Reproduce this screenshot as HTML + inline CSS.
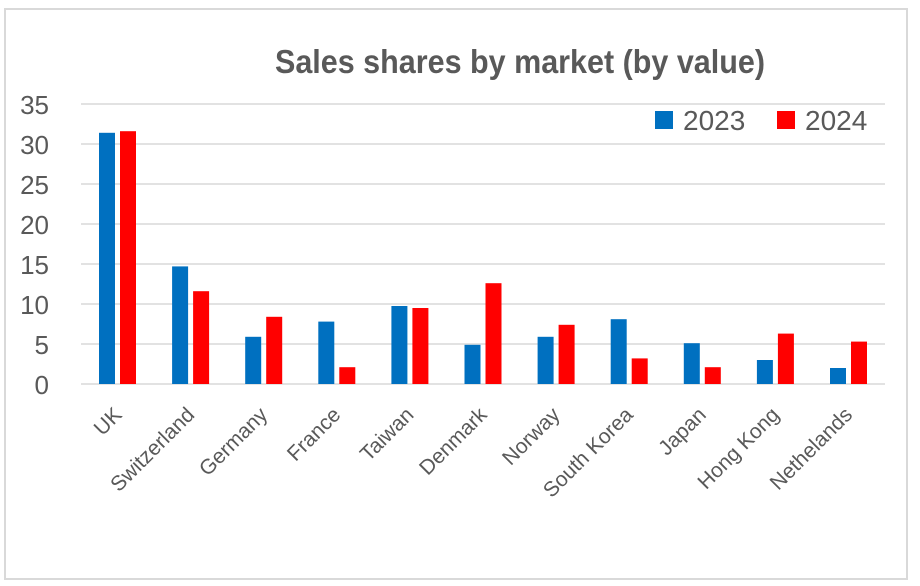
<!DOCTYPE html>
<html><head><meta charset="utf-8"><style>
html,body{margin:0;padding:0;background:#fff;}
svg{display:block;}
text{font-family:"Liberation Sans",sans-serif;fill:#595959;}
</style></head><body>
<svg width="920" height="586" viewBox="0 0 920 586" xmlns="http://www.w3.org/2000/svg">
<rect x="0" y="0" width="920" height="586" fill="#fff"/>
<rect x="5" y="9" width="902" height="570" fill="#fff" stroke="#d9d9d9" stroke-width="2"/>
<text x="520" y="73" text-anchor="middle" font-size="33" font-weight="bold" textLength="490" lengthAdjust="spacingAndGlyphs">Sales shares by market (by value)</text>
<g stroke="#d9d9d9" stroke-width="1.5">
<line x1="81" y1="104" x2="885" y2="104"/>
<line x1="81" y1="144" x2="885" y2="144"/>
<line x1="81" y1="184" x2="885" y2="184"/>
<line x1="81" y1="224" x2="885" y2="224"/>
<line x1="81" y1="264" x2="885" y2="264"/>
<line x1="81" y1="304" x2="885" y2="304"/>
<line x1="81" y1="344" x2="885" y2="344"/>
<line x1="81" y1="384" x2="885" y2="384"/>
</g>
<g font-size="26" text-anchor="end">
<text x="49" y="114">35</text>
<text x="49" y="154">30</text>
<text x="49" y="194">25</text>
<text x="49" y="234">20</text>
<text x="49" y="274">15</text>
<text x="49" y="314">10</text>
<text x="49" y="354">5</text>
<text x="49" y="394">0</text>
</g>
<g fill="#0070C0">
<rect x="99" y="132.8" width="16" height="251.2"/>
<rect x="172.1" y="266.4" width="16" height="117.6"/>
<rect x="245.2" y="336.8" width="16" height="47.2"/>
<rect x="318.3" y="321.6" width="16" height="62.4"/>
<rect x="391.4" y="306" width="16" height="78"/>
<rect x="464.5" y="344.8" width="16" height="39.2"/>
<rect x="537.6" y="336.8" width="16" height="47.2"/>
<rect x="610.7" y="319.2" width="16" height="64.8"/>
<rect x="683.8" y="343.2" width="16" height="40.8"/>
<rect x="756.9" y="360" width="16" height="24"/>
<rect x="830" y="368" width="16" height="16"/>
</g>
<g fill="#FF0000">
<rect x="120" y="131.2" width="16" height="252.8"/>
<rect x="193.1" y="291.2" width="16" height="92.8"/>
<rect x="266.2" y="316.8" width="16" height="67.2"/>
<rect x="339.3" y="367.2" width="16" height="16.8"/>
<rect x="412.4" y="308" width="16" height="76"/>
<rect x="485.5" y="283.2" width="16" height="100.8"/>
<rect x="558.6" y="324.8" width="16" height="59.2"/>
<rect x="631.7" y="358.4" width="16" height="25.6"/>
<rect x="704.8" y="367.2" width="16" height="16.8"/>
<rect x="777.9" y="333.6" width="16" height="50.4"/>
<rect x="851" y="341.6" width="16" height="42.4"/>
</g>
<g font-size="21" text-anchor="end">
<text transform="translate(123,416) rotate(-45)">UK</text>
<text transform="translate(195.6,416) rotate(-45)">Switzerland</text>
<text transform="translate(268.7,416) rotate(-45)">Germany</text>
<text transform="translate(341.8,416) rotate(-45)">France</text>
<text transform="translate(414.9,416) rotate(-45)">Taiwan</text>
<text transform="translate(488,416) rotate(-45)">Denmark</text>
<text transform="translate(561.1,416) rotate(-45)">Norway</text>
<text transform="translate(634.2,416) rotate(-45)">South Korea</text>
<text transform="translate(707.3,416) rotate(-45)">Japan</text>
<text transform="translate(780.4,416) rotate(-45)">Hong Kong</text>
<text transform="translate(853.5,416) rotate(-45)">Nethelands</text>
</g>
<rect x="655" y="111" width="18" height="18" fill="#0070C0"/>
<text x="683" y="130" font-size="28">2023</text>
<rect x="777" y="111" width="18" height="18" fill="#FF0000"/>
<text x="805" y="130" font-size="28">2024</text>
</svg>
</body></html>
